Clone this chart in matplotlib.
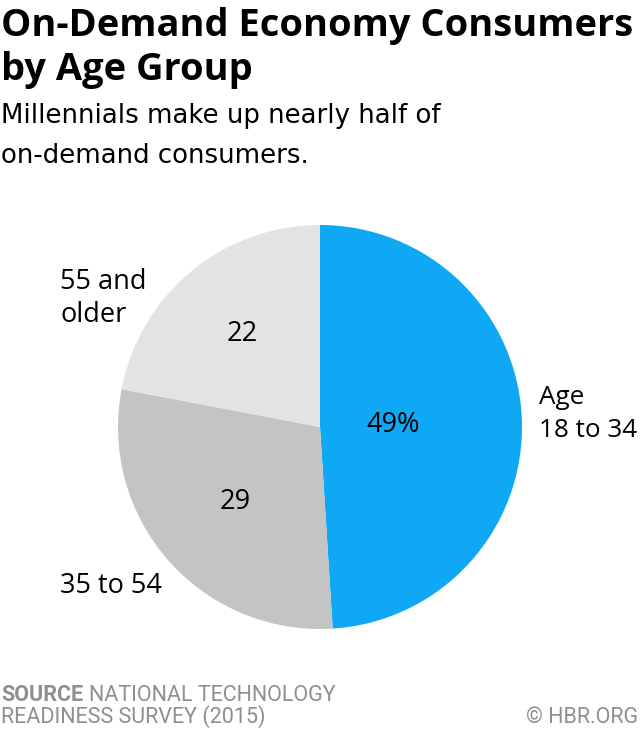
import matplotlib
matplotlib.use("Agg")
import matplotlib.pyplot as plt
import numpy as np

categories = ["Age\n18 to 34", "35 to 54", "55 and\nolder"]
values = [49, 29, 22]
value_labels = ["49%", "29", "22"]
colors = ["#0ea8f5", "#c4c4c4", "#e3e3e3"]

W, H = 640, 731
fig = plt.figure(figsize=(W / 100, H / 100), dpi=100)
fig.patch.set_facecolor("white")

def px(x, y):
    return x / W, 1 - y / H

TFONT = ["Open Sans", "DejaVu Sans"]
SFONT = ["DejaVu Sans"]
FONT = ["Open Sans", "DejaVu Sans"]
FFONT = ["Roboto", "DejaVu Sans"]

# Title
fig.text(*px(1, 36), "On-Demand Economy Consumers", fontsize=27.4, fontweight="bold",
         family=TFONT, ha="left", va="baseline", color="black")
fig.text(*px(1, 80), "by Age Group", fontsize=27.4, fontweight="bold",
         family=TFONT, ha="left", va="baseline", color="black")
fig.text(*px(1, 123), "Millennials make up nearly half of", fontsize=18.7,
         family=SFONT, ha="left", va="baseline", color="black")
fig.text(*px(1, 163), "on-demand consumers.", fontsize=18.7,
         family=SFONT, ha="left", va="baseline", color="black")

# Pie
cx, cy, r = 320, 427, 202
ax = fig.add_axes([(cx - r) / W, (H - cy - r) / H, 2 * r / W, 2 * r / H])
wedges, texts = ax.pie(values, colors=colors, startangle=90, counterclock=False,
                       radius=1, wedgeprops=dict(linewidth=0))
ax.set_xlim(-1, 1)
ax.set_ylim(-1, 1)
ax.set_aspect("auto")
ax.axis("off")

inner_dist = [0.36, 0.56, 0.60]
for w, lab, d in zip(wedges, value_labels, inner_dist):
    ang = np.deg2rad((w.theta1 + w.theta2) / 2)
    ax.text(d * np.cos(ang), d * np.sin(ang), lab, ha="center", va="center",
            fontsize=19.5, family=FONT, color="black")

# Outer category labels (x, first-line baseline, size)
outer_pos = [(539, 404, 18.8), (60, 593, 19.5), (60, 289, 19.5)]
for lab, (x, y, s) in zip(categories, outer_pos):
    for i, line in enumerate(lab.split("\n")):
        fig.text(*px(x, y + 33 * i), line, ha="left", va="baseline", fontsize=s,
                 family=FONT, color="black")

# Footer
gray = "#8f8f8f"
fs = 15.5
src = fig.text(*px(1, 701), "SOURCE", fontsize=fs, fontweight="bold", family=FFONT,
               color=gray, ha="left", va="baseline")
fig.canvas.draw()
bb = src.get_window_extent()
fig.text((bb.x1 + 6) / W, 1 - 701 / H, "NATIONAL TECHNOLOGY", fontsize=fs, family=FFONT,
         color=gray, ha="left", va="baseline")
fig.text(*px(1, 723), "READINESS SURVEY (2015)", fontsize=fs, family=FFONT,
         color=gray, ha="left", va="baseline")
fig.text(*px(638, 723), "© HBR.ORG", fontsize=fs, family=FFONT,
         color=gray, ha="right", va="baseline")

fig.savefig("out.png", dpi=100)
